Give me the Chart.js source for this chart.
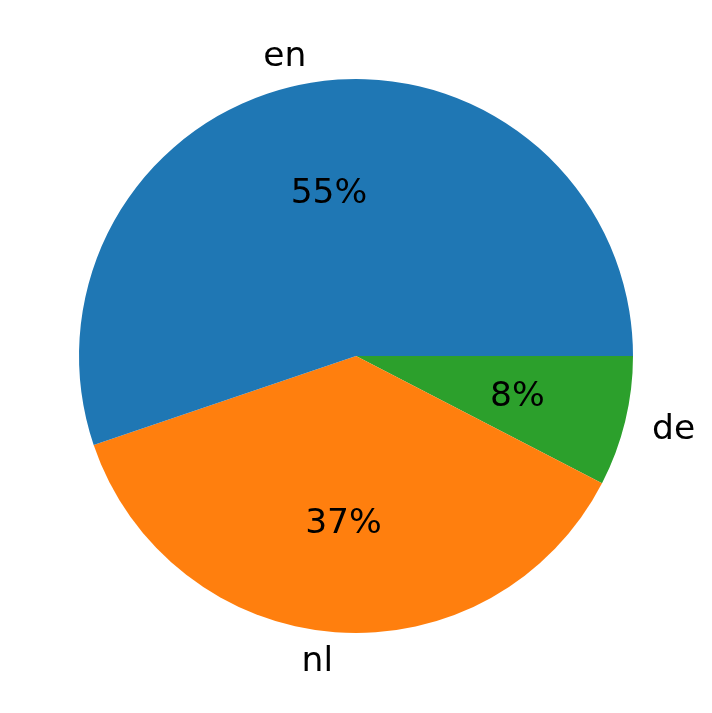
<!DOCTYPE html>
<html>
<head>
<meta charset="utf-8">
<script src="https://cdn.jsdelivr.net/npm/chart.js@4"></script>
<style>
  html, body { margin: 0; padding: 0; background: #fff; }
  canvas { display: block; }
</style>
</head>
<body>
<canvas id="pieChart" width="712" height="713"></canvas>
<script>
// Data (matplotlib order: counter-clockwise from 3 o'clock)
const languages = ["en", "nl", "de"];
const shares = [55.2, 37.2, 7.6];
const colors = ["#1f77b4", "#ff7f0e", "#2ca02c"];

// Chart.js draws clockwise, so feed the slices reversed
const revLabels = languages.slice().reverse();
const revShares = shares.slice().reverse();
const revColors = colors.slice().reverse();

const FONT = "34.5px 'DejaVu Sans'";

// Draw labels outside (1.1 r) and percentages inside (0.6 r), like matplotlib
const pieLabels = {
  id: "pieLabels",
  afterDatasetsDraw(chart) {
    const ctx = chart.ctx;
    const meta = chart.getDatasetMeta(0);
    const total = revShares.reduce((a, b) => a + b, 0);
    ctx.save();
    ctx.font = FONT;
    ctx.fillStyle = "#000";
    ctx.textBaseline = "middle";
    meta.data.forEach((arc, i) => {
      const mid = (arc.startAngle + arc.endAngle) / 2;
      const r = arc.outerRadius;
      const cx = Math.cos(mid), cy = Math.sin(mid);
      // percentage
      ctx.textAlign = "center";
      const pct = Math.round(revShares[i] / total * 100) + "%";
      ctx.fillText(pct, arc.x + 0.6 * r * cx, arc.y + 0.6 * r * cy + 2);
      // category label
      ctx.textAlign = cx > 0 ? "left" : "right";
      ctx.fillText(revLabels[i], arc.x + 1.1 * r * cx, arc.y + 1.1 * r * cy + 2);
    });
    ctx.restore();
  }
};

new Chart(document.getElementById("pieChart").getContext("2d"), {
  type: "pie",
  data: {
    labels: revLabels,
    datasets: [{
      data: revShares,
      backgroundColor: revColors,
      borderWidth: 0
    }]
  },
  options: {
    responsive: false,
    animation: false,
    rotation: 90, // start at 3 o'clock
    layout: { padding: { left: 79, right: 79, top: 79, bottom: 80 } },
    plugins: {
      legend: { display: false },
      tooltip: { enabled: false }
    }
  },
  plugins: [pieLabels]
});
</script>
</body>
</html>
